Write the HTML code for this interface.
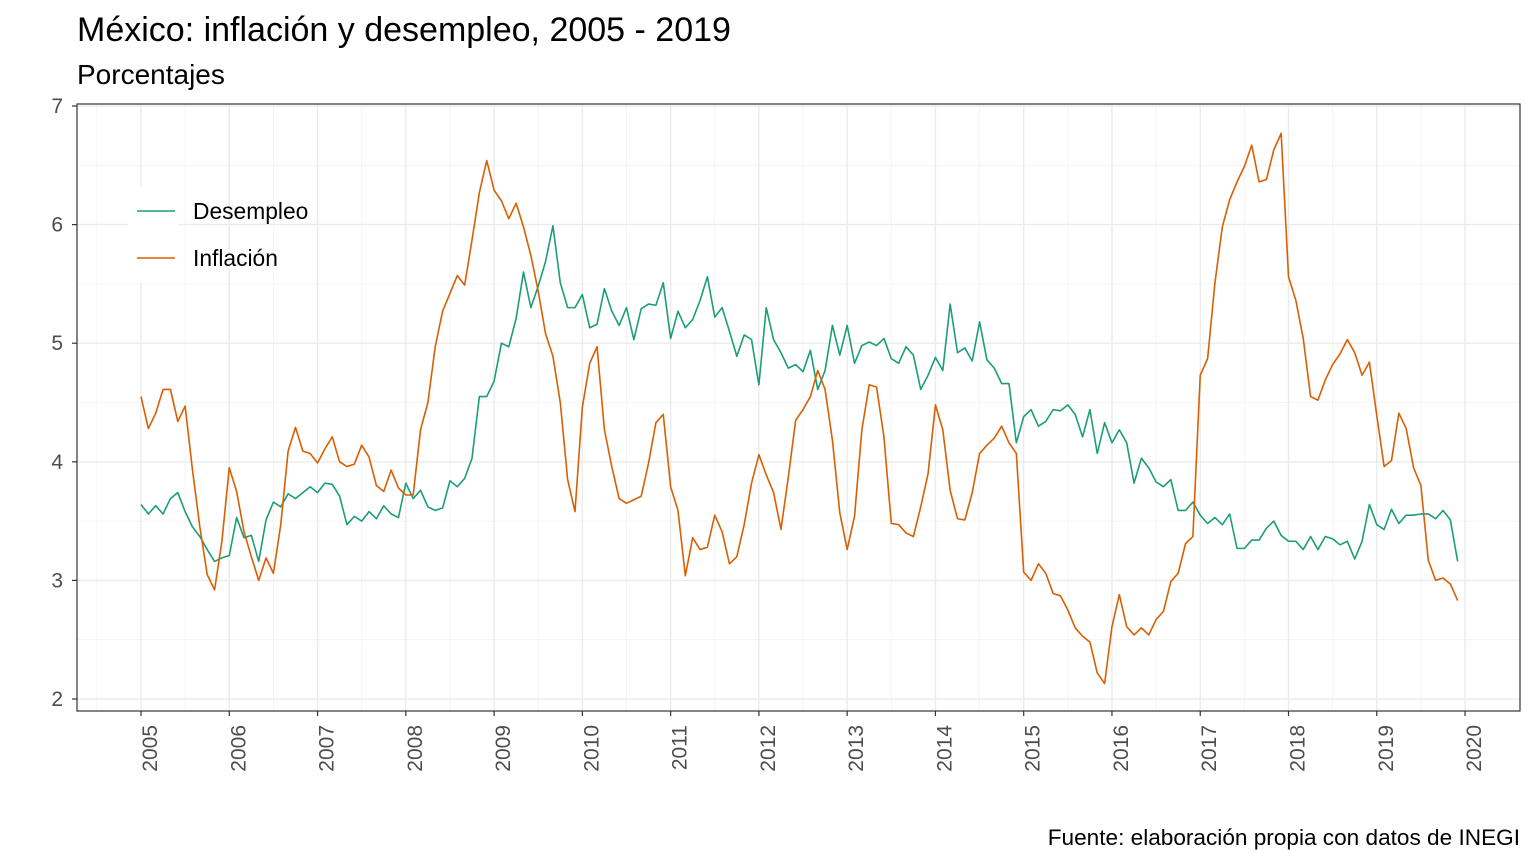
<!DOCTYPE html>
<html><head><meta charset="utf-8"><style>
body{margin:0;background:#fff;}
svg{display:block;font-family:"Liberation Sans",sans-serif;}
</style></head><body>
<svg id="chart" width="1536" height="864" viewBox="0 0 1536 864" xmlns="http://www.w3.org/2000/svg">
<rect x="0" y="0" width="1536" height="864" fill="#fff"/>
<text x="77" y="41" font-size="34" fill="#000">México: inflación y desempleo, 2005 - 2019</text>
<text x="77" y="84" font-size="28" fill="#000">Porcentajes</text>
<g id="grid"></g>
<g id="series"></g>
<rect x="128" y="187" width="50" height="95" fill="#fff"/>
<g>
<line x1="137" y1="211" x2="175" y2="211" stroke="#1b9e77" stroke-width="1.6"/>
<text x="193" y="219" font-size="22.8" fill="#000">Desempleo</text>
<line x1="137" y1="258" x2="175" y2="258" stroke="#d95f02" stroke-width="1.6"/>
<text x="193" y="266" font-size="22.8" fill="#000">Inflación</text>
</g>
<rect x="77" y="104" width="1443" height="607" fill="none" stroke="#333" stroke-width="1.2"/>
<g id="axes"></g>
<text x="1520" y="845" font-size="22.6" fill="#000" text-anchor="end">Fuente: elaboración propia con datos de INEGI</text>
</svg>
<script>
const yTicks=[2,3,4,5,6,7];
const xTickYears=[2005,2006,2007,2008,2009,2010,2011,2012,2013,2014,2015,2016,2017,2018,2019,2020];
const startYear=2005;
const inflacion=[
4.55,4.28,4.41,4.61,4.61,4.34,4.47,3.93,3.45,3.05,2.92,3.33,
3.95,3.75,3.41,3.20,3.00,3.19,3.06,3.47,4.09,4.29,4.09,4.07,
3.99,4.11,4.21,4.00,3.96,3.98,4.14,4.04,3.80,3.75,3.93,3.78,
3.72,3.72,4.27,4.50,4.97,5.27,5.42,5.57,5.49,5.87,6.27,6.54,
6.29,6.20,6.05,6.18,5.98,5.74,5.44,5.08,4.89,4.50,3.85,3.58,
4.46,4.83,4.97,4.27,3.96,3.69,3.65,3.68,3.71,3.99,4.33,4.40,
3.79,3.59,3.04,3.36,3.26,3.28,3.55,3.41,3.14,3.20,3.47,3.82,
4.06,3.89,3.74,3.43,3.87,4.35,4.44,4.55,4.77,4.61,4.18,3.57,
3.26,3.54,4.27,4.65,4.63,4.21,3.48,3.47,3.40,3.37,3.62,3.90,
4.48,4.27,3.76,3.52,3.51,3.74,4.07,4.14,4.20,4.30,4.16,4.07,
3.07,3.00,3.14,3.06,2.89,2.87,2.75,2.60,2.53,2.48,2.22,2.13,
2.61,2.88,2.61,2.54,2.60,2.54,2.67,2.74,2.99,3.06,3.31,3.37,
4.73,4.87,5.51,5.98,6.21,6.36,6.49,6.67,6.36,6.38,6.63,6.77,
5.56,5.36,5.04,4.55,4.52,4.69,4.82,4.91,5.03,4.92,4.73,4.84,
4.39,3.96,4.01,4.41,4.28,3.95,3.80,3.17,3.00,3.02,2.97,2.83];
const desempleo=[
3.64,3.56,3.63,3.56,3.69,3.74,3.58,3.45,3.37,3.26,3.16,3.19,
3.21,3.53,3.36,3.38,3.16,3.51,3.66,3.62,3.73,3.69,3.74,3.79,
3.74,3.82,3.81,3.71,3.47,3.54,3.50,3.58,3.52,3.63,3.56,3.53,
3.82,3.69,3.76,3.62,3.59,3.61,3.84,3.79,3.86,4.03,4.55,4.55,
4.68,5.00,4.97,5.21,5.60,5.30,5.48,5.69,5.99,5.51,5.30,5.30,
5.41,5.13,5.16,5.46,5.27,5.15,5.30,5.03,5.29,5.33,5.32,5.51,
5.04,5.27,5.13,5.20,5.36,5.56,5.22,5.30,5.10,4.89,5.07,5.03,
4.65,5.30,5.03,4.92,4.79,4.82,4.76,4.94,4.61,4.77,5.15,4.90,
5.15,4.83,4.98,5.01,4.98,5.04,4.87,4.83,4.97,4.90,4.61,4.73,
4.88,4.77,5.33,4.92,4.96,4.85,5.18,4.86,4.79,4.66,4.66,4.16,
4.38,4.44,4.30,4.34,4.44,4.43,4.48,4.40,4.21,4.44,4.07,4.33,
4.16,4.27,4.16,3.82,4.03,3.95,3.83,3.79,3.85,3.59,3.59,3.66,
3.55,3.48,3.53,3.47,3.56,3.27,3.27,3.34,3.34,3.44,3.50,3.38,
3.33,3.33,3.26,3.37,3.26,3.37,3.35,3.30,3.33,3.18,3.33,3.64,
3.47,3.43,3.60,3.48,3.55,3.55,3.56,3.56,3.52,3.59,3.51,3.16];

const NS='http://www.w3.org/2000/svg';
const PL=77,PR=1520,PT=104,PB=711;
function xScale(t){return 141+(t-2005)*88.27;}
function yScale(v){return 699-(v-2)*118.6;}
function mk(tag,attrs,parent){const e=document.createElementNS(NS,tag);for(const k in attrs)e.setAttribute(k,attrs[k]);parent.appendChild(e);return e;}
const grid=document.getElementById('grid'),axes=document.getElementById('axes'),series=document.getElementById('series');
for(let i=0;i<yTicks.length-1;i++){const yy=yScale(yTicks[i]+0.5);
 const l=mk('line',{x1:PL,x2:PR,y1:yy,y2:yy,stroke:'#f2f2f2','stroke-width':0.8},grid);
 
 }
for(let i=0;i<xTickYears.length;i++){const xx=xScale(xTickYears[i]-0.5);
 if(xx>PL){const l=mk('line',{x1:xx,x2:xx,y1:PT,y2:PB,stroke:'#f2f2f2','stroke-width':0.8},grid);
 
 }}
yTicks.forEach(v=>{const yy=yScale(v);
 const l=mk('line',{x1:PL,x2:PR,y1:yy,y2:yy,stroke:'#ebebeb','stroke-width':1.4},grid);
 
 
 const t=mk('line',{x1:PL-5,x2:PL,y1:yy,y2:yy,stroke:'#333','stroke-width':1.2},axes);
 
 
 const tx=mk('text',{x:PL-14,y:yy+7,'font-size':21,fill:'#4d4d4d','text-anchor':'end'},axes);
 
 
 tx.textContent=v;});
xTickYears.forEach(yr=>{const xx=xScale(yr);
 const l=mk('line',{x1:xx,x2:xx,y1:PT,y2:PB,stroke:'#ebebeb','stroke-width':1.4},grid);
 
 
 const t=mk('line',{x1:xx,x2:xx,y1:PB,y2:PB+5,stroke:'#333','stroke-width':1.2},axes);
 
 
 const tx=mk('text',{x:0,y:0,'font-size':21,fill:'#4d4d4d','text-anchor':'end',transform:'translate('+(xx+16)+','+(PB+14)+') rotate(-90)'},axes);
 
 
 tx.textContent=yr;});
function drawLine(arr,color,name){
 const pts=arr.map((v,i)=>xScale(startYear+i/12).toFixed(2)+','+yScale(v).toFixed(2)).join(' ');
 const p=mk('polyline',{points:pts,fill:'none',stroke:color,'stroke-width':1.6,'stroke-linejoin':'round'},series);
 
 }
drawLine(desempleo,'#1b9e77','desempleo-line');
drawLine(inflacion,'#d95f02','inflacion-line');
</script>
</body></html>
